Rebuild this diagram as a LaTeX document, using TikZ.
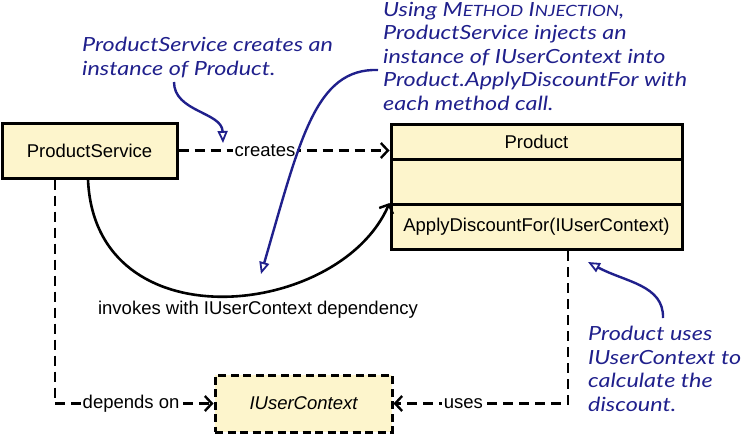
\documentclass[tikz,border=0pt]{standalone}
\usepackage{fontspec}
\setmainfont{Liberation Sans}
\newfontfamily\hand{Lato}[FakeStretch=1.2]
\usetikzlibrary{arrows.meta}
\definecolor{boxfill}{RGB}{253,245,204}
\definecolor{ink}{RGB}{32,32,140}
\tikzset{
  box/.style={draw=black, line width=3pt, fill=boxfill, inner sep=0pt, font=\fontsize{18.5}{22}\selectfont},
  dep/.style={draw=black, line width=2.6pt, dash pattern=on 10pt off 6pt},
  chev/.style={-{Straight Barb[length=7pt,width=15pt,line width=2.4pt]}},
  lbl/.style={fill=white, inner sep=1.5pt, font=\fontsize{18.5}{22}\selectfont},
  note/.style={text=ink, anchor=north west, align=left, inner sep=0pt, font=\hand\itshape\fontsize{19.5}{23.5}\selectfont},
  notearrow/.style={draw=ink, line width=2.4pt, -{Triangle[open,length=12pt,width=10pt,line width=1.8pt]}}
}
\begin{document}
\begin{tikzpicture}[x=1pt,y=-1pt]
\useasboundingbox (0,0) rectangle (750,436);
% class boxes
\node[box, minimum width=175pt, minimum height=55pt] (ps) at (89.5,150.5) {ProductService};
\node[box, minimum width=291pt, minimum height=35pt, anchor=north] (p1) at (536.5,123) {Product};
\node[box, minimum width=291pt, minimum height=45pt, anchor=north] (p2) at ([yshift=3pt]p1.south) {};
\node[box, minimum width=291pt, minimum height=45pt, anchor=north] (p3) at ([yshift=3pt]p2.south) {ApplyDiscountFor(IUserContext)};
\node[box, dash pattern=on 8pt off 4.5pt, minimum width=177pt, minimum height=57pt] (iu) at (303.5,403.5) {\itshape IUserContext};
% connectors
\draw[dep, chev] (ps.east) -- node[lbl, pos=0.41] {creates} (ps.east -| p1.west);
\draw[line width=2.6pt, chev] ([xshift=-1.5pt]ps.south) .. controls (95,345) and (340,318) .. (p3.north west);
\node[font=\fontsize{18.5}{22}\selectfont] (inv) at (258,310) {invokes with IUserContext dependency};
\draw[dep, chev] ([xshift=-34.5pt]ps.south) |- node[lbl, pos=0.74] {depends on} (iu.west);
\draw[dep, chev] ([xshift=31.5pt]p3.south) |- node[lbl, pos=0.8] {uses} (iu.east);
% annotations
\node[note] (n1) at (82,37) {ProductService creates an\\instance of Product.};
\node[note] (n2) at (383,2) {Using M{\fontsize{15.5}{15.5}\selectfont ETHOD} I{\fontsize{15.5}{15.5}\selectfont NJECTION},\\ProductService injects an\\instance of IUserContext into\\Product.ApplyDiscountFor with\\each method call.};
\node[note] (n3) at (588,326) {Product uses\\IUserContext to\\calculate the\\discount.};
\coordinate (a1s) at (174,82);
\coordinate (a1e) at (223,143);
\coordinate (a2s) at (378,70);
\coordinate (a2e) at (261,274);
\coordinate (a3s) at (663,318);
\coordinate (a3e) at (588,262);
\draw[notearrow] (a1s) .. controls (174,112) and (222,112) .. (a1e);
\draw[notearrow] (a2s) .. controls (315,68) and (300,140) .. (a2e);
\draw[notearrow] (a3s) .. controls (664,285) and (625,282) .. (a3e);
\end{tikzpicture}
\end{document}
